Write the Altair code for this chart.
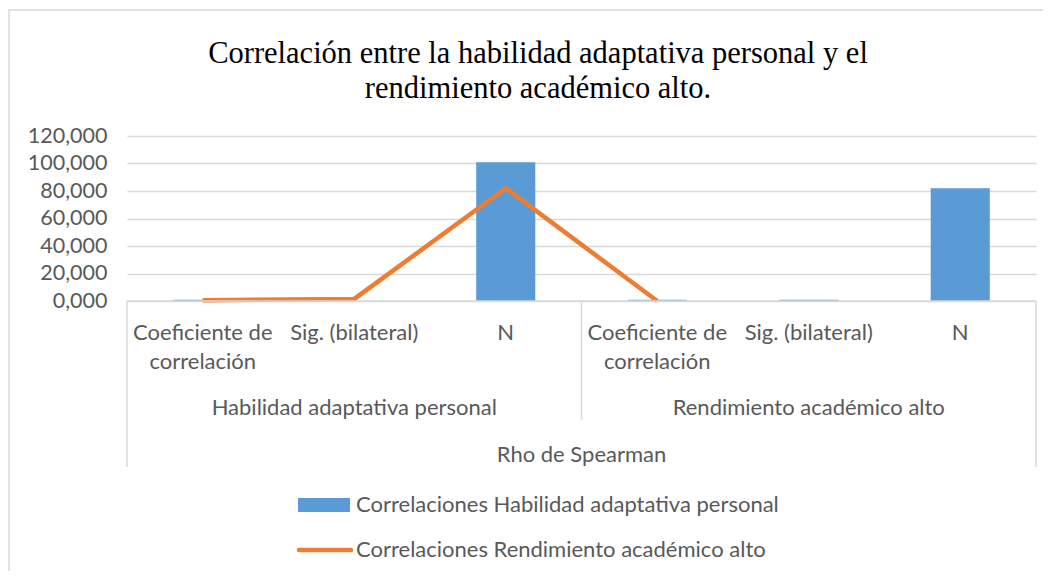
import altair as alt
import pandas as pd

# ---- data ----
title_lines = ["Correlación  entre la habilidad  adaptativa personal y el", "rendimiento  académico  alto."]
groups = ["Habilidad adaptativa personal", "Rendimiento académico alto"]
stats = ["Coeficiente de\ncorrelación", "Sig. (bilateral)", "N"]
top_group = ["Rho de Spearman"]
series = ["Correlaciones Habilidad adaptativa personal", "Correlaciones Rendimiento académico alto"]
bar_values = [1.0, 0.0, 101.0, 1.0, 1.0, 82.0]
line_values = [0.5, 1.5, 82.0, 0.0, None, None]
y_ticks = [0, 20, 40, 60, 80, 100, 120]

# ---- style ----
W, H = 909, 165
BLUE = "#5b9bd5"
ORANGE = "#ed7d31"
LG = "#d9d9d9"
GRAY = "#595959"
FONT = "Lato"
FS = 22

keys = [f"{g}|{s}" for g in groups for s in stats]
df = pd.DataFrame({
    "key": keys,
    "label": [s for g in groups for s in stats],
    "bar": bar_values,
    "line": line_values,
})

xscale = alt.Scale(domain=keys, paddingInner=0.61, paddingOuter=0.305)
yscale = alt.Scale(domain=[0, 120], nice=False)


def xenc(center=False):
    if center:
        return alt.X("key:N", scale=xscale, axis=None, bandPosition=0.5)
    return alt.X("key:N", scale=xscale, axis=None)


yaxis = alt.Axis(
    values=y_ticks,
    tickCount=len(y_ticks),
    labelExpr="replace(format(datum.value, '.3f'), '.', ',')",
    grid=True, gridColor=LG, gridWidth=1.5,
    domain=False, ticks=False,
    labelFontSize=21.5, labelFont=FONT, labelColor=GRAY, labelPadding=20,
    labelOverlap=False, labelBound=False,
    title=None,
)

one = pd.DataFrame({"v": [0]})

border = alt.Chart(one).mark_rect(fillOpacity=0, stroke=LG, strokeWidth=1.5).encode(
    x=alt.value(-118), x2=alt.value(W + 300), y=alt.value(-126), y2=alt.value(H + 500)
)

bars = alt.Chart(df).mark_bar(color=BLUE).encode(
    x=xenc(), y=alt.Y("bar:Q", scale=yscale, axis=yaxis)
)

line = alt.Chart(df).mark_line(color=ORANGE, strokeWidth=4.5).encode(
    x=xenc(True), y=alt.Y("line:Q", scale=yscale, axis=yaxis)
)

baseline = alt.Chart(one).mark_rule(color=LG, strokeWidth=1.5).encode(
    x=alt.value(0), x2=alt.value(W), y=alt.value(H)
)
sep_left = alt.Chart(one).mark_rule(color=LG, strokeWidth=1.5).encode(
    x=alt.value(0), y=alt.value(H), y2=alt.value(331)
)
sep_mid = alt.Chart(one).mark_rule(color=LG, strokeWidth=1.5).encode(
    x=alt.value(W / 2), y=alt.value(H), y2=alt.value(284)
)
sep_right = alt.Chart(one).mark_rule(color=LG, strokeWidth=1.5).encode(
    x=alt.value(W), y=alt.value(H), y2=alt.value(331)
)

stat_labels = alt.Chart(df).mark_text(
    lineBreak="\n", fontSize=FS, font=FONT, color=GRAY, baseline="alphabetic", lineHeight=29
).encode(x=xenc(True), y=alt.value(204), text="label:N")

gdf = pd.DataFrame({"key": [keys[1], keys[4]], "group": groups})
group_labels = alt.Chart(gdf).mark_text(
    fontSize=FS, font=FONT, color=GRAY, baseline="alphabetic"
).encode(x=xenc(True), y=alt.value(279), text="group:N")

tdf = pd.DataFrame({"t": top_group})
top_label = alt.Chart(tdf).mark_text(
    fontSize=FS, font=FONT, color=GRAY, baseline="alphabetic"
).encode(x=alt.value(W / 2), y=alt.value(326), text="t:N")

ttl = pd.DataFrame({"t": ["\n".join(title_lines)]})
title = alt.Chart(ttl).mark_text(
    lineBreak="\n", fontSize=30.5, font="Liberation Serif", color="black",
    baseline="alphabetic", lineHeight=35
).encode(x=alt.value(411), y=alt.value(-73), text="t:N")

leg_rect = alt.Chart(one).mark_rect(color=BLUE).encode(
    x=alt.value(171), x2=alt.value(223), y=alt.value(362), y2=alt.value(376)
)
leg_line = alt.Chart(one).mark_rule(color=ORANGE, strokeWidth=4.5, strokeCap="round").encode(
    x=alt.value(172), x2=alt.value(224), y=alt.value(414)
)
leg_t1 = alt.Chart(pd.DataFrame({"s": [series[0]]})).mark_text(
    fontSize=FS, font=FONT, color=GRAY, baseline="middle", align="left"
).encode(x=alt.value(229), y=alt.value(369), text="s:N")
leg_t2 = alt.Chart(pd.DataFrame({"s": [series[1]]})).mark_text(
    fontSize=FS, font=FONT, color=GRAY, baseline="middle", align="left"
).encode(x=alt.value(229), y=alt.value(414), text="s:N")

chart = alt.layer(
    border, bars, line, baseline, sep_left, sep_mid, sep_right,
    stat_labels, group_labels, top_label, title,
    leg_rect, leg_line, leg_t1, leg_t2,
).properties(
    width=W, height=H,
    padding={"left": 119, "top": 128, "right": 7, "bottom": 270},
    autosize=alt.AutoSizeParams(type="none"),
).configure_view(stroke=None)

chart.save("out.html", embed_options={"renderer": "svg", "actions": False})
